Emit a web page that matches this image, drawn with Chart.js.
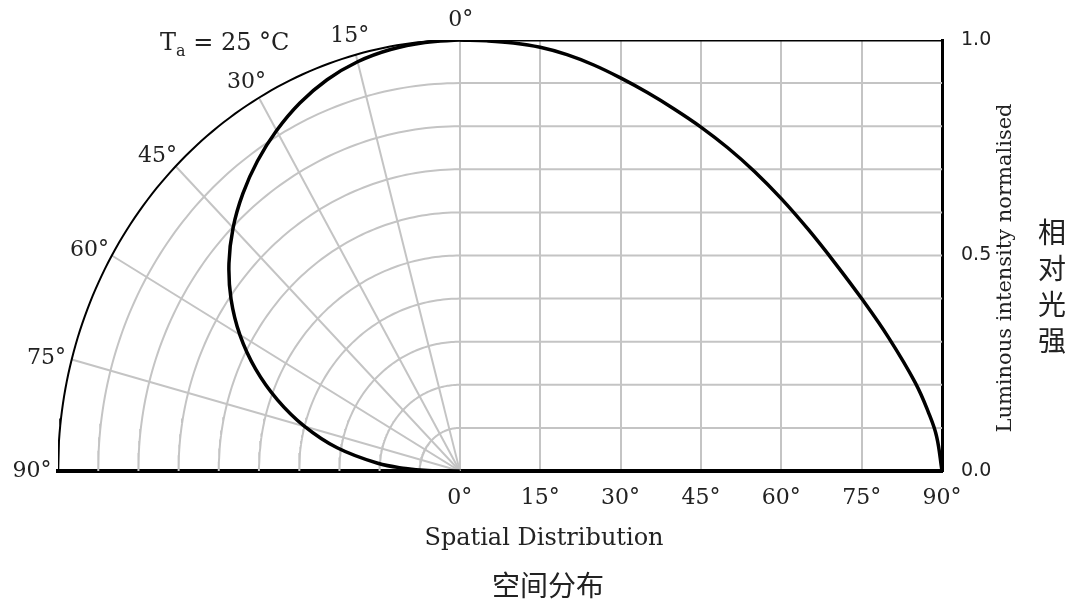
<!DOCTYPE html>
<html>
<head>
<meta charset="utf-8">
<script src="https://cdn.jsdelivr.net/npm/chart.js@4.4.0/dist/chart.umd.min.js"></script>
<style>
  html, body { margin: 0; padding: 0; background: #fff; }
  #wrap { width: 1072px; height: 603px; }
</style>
</head>
<body>
<div id="wrap"><canvas id="chart" width="1072" height="603"></canvas></div>
<script>
//*Data
const angles = [0, 5, 10, 15, 20, 25, 30, 35, 40, 45, 50, 55, 60, 65, 70, 75, 80, 85, 87.5, 89, 90];
const intensity = [1.0, 0.998, 0.993, 0.983, 0.966, 0.942, 0.912, 0.878, 0.84, 0.798, 0.75, 0.695, 0.632, 0.561, 0.483, 0.40, 0.31, 0.205, 0.135, 0.08, 0.0];
const angleTicks = [0, 15, 30, 45, 60, 75, 90];
const levelTicks = [0.0, 0.5, 1.0];
const gridLevels = [0.1, 0.2, 0.3, 0.4, 0.5, 0.6, 0.7, 0.8, 0.9];
const spokeAngles = [15, 30, 45, 60, 75];

//*Polar half uses the same x scale, radius 1 = R_X units
const R_X = 75;
const GRID = '#c4c4c4';
const TEXT = '#222';
const rad = a => a * Math.PI / 180;
const polarPt = (r, a) => ({ x: -r * Math.sin(rad(a)) * R_X, y: r * Math.cos(rad(a)) });

const ring = r => {
  let pts = [];
  for (let a = 0; a <= 90; a++) pts.push(polarPt(r, a));
  return pts;
}

const lineSet = (data, color, width, extra) => Object.assign({
  data: data,
  showLine: true,
  borderColor: color,
  borderWidth: width,
  pointRadius: 0,
  fill: false,
}, extra || {});

const datasets = [
  // curve, cartesian side
  lineSet(angles.map((a, i) => ({ x: a, y: intensity[i] })), '#000', 3.5, { tension: 0.4 }),
  // curve, polar side
  lineSet(angles.map((a, i) => polarPt(intensity[i], a)), '#000', 3.5, { tension: 0.4 }),
  // top border
  lineSet([{ x: 0, y: 1 }, { x: 90, y: 1 }], '#000', 3),
  // outer ring
  lineSet(ring(1), '#000', 2),
];
gridLevels.forEach(v => {
  datasets.push(lineSet(ring(v), GRID, 2));
  datasets.push(lineSet([{ x: 0, y: v }, { x: 90, y: v }], GRID, 2));
});
spokeAngles.forEach(a => {
  datasets.push(lineSet([{ x: 0, y: 0 }, polarPt(1, a)], GRID, 2));
});

//*Texts
const textPlugin = {
  id: 'texts',
  afterDraw(chart) {
    const ctx = chart.ctx;
    const xs = chart.scales.x, ys = chart.scales.y;
    ctx.save();
    ctx.fillStyle = TEXT;

    // polar angle labels
    ctx.font = '22px "DejaVu Serif"';
    ctx.textAlign = 'center';
    ctx.textBaseline = 'middle';
    angleTicks.forEach(a => {
      const p = polarPt(1, a);
      const px = xs.getPixelForValue(p.x);
      const py = ys.getPixelForValue(p.y);
      const c = Math.cos(rad(a));
      ctx.fillText(a + '°', px - 27 * Math.sin(rad(a)) + 1, py - 20 * c * c);
    });

    // T_a = 25 °C
    ctx.textAlign = 'left';
    ctx.textBaseline = 'alphabetic';
    ctx.font = '24px "DejaVu Serif"';
    let x = 160;
    ctx.fillText('T', x, 50);
    x += ctx.measureText('T').width;
    ctx.font = '16px "DejaVu Serif"';
    ctx.fillText('a', x, 56);
    x += ctx.measureText('a').width;
    ctx.font = '24px "DejaVu Serif"';
    ctx.fillText(' = 25 °C', x, 50);

    // x titles
    ctx.textAlign = 'center';
    ctx.font = '24px "DejaVu Serif"';
    ctx.fillText('Spatial Distribution', 544, 545);
    ctx.font = '28px "Noto Sans CJK SC"';
    ctx.textBaseline = 'middle';
    ctx.fillText('空间分布', 548, 585);

    // y titles
    ctx.save();
    ctx.translate(1006, 268);
    ctx.rotate(-Math.PI / 2);
    ctx.font = '21px "DejaVu Serif"';
    ctx.fillText('Luminous intensity normalised', 0, 0);
    ctx.restore();
    ctx.font = '28px "Noto Sans CJK SC"';
    ['相', '对', '光', '强'].forEach((c, i) => ctx.fillText(c, 1052, 232 + i * 36));
    ctx.restore();
  }
}

const chart = new Chart(document.getElementById('chart'), {
  type: 'scatter',
  data: { datasets: datasets },
  options: {
    responsive: false,
    animation: false,
    events: [],
    layout: { padding: { left: 58, top: 40, right: 70, bottom: 87 } },
    plugins: { legend: { display: false }, tooltip: { enabled: false } },
    scales: {
      x: {
        type: 'linear',
        min: -R_X,
        max: 90,
        afterBuildTicks: s => { s.ticks = angleTicks.map(v => ({ value: v })); },
        afterFit: s => { s.height = 45; },
        grid: { color: GRID, lineWidth: 2, drawTicks: false },
        border: { color: '#000', width: 4 },
        ticks: {
          padding: 14,
          color: TEXT,
          font: { family: 'DejaVu Serif', size: 22 },
          callback: v => v + '°',
          maxRotation: 0,
        },
      },
      y: {
        type: 'linear',
        position: 'right',
        min: 0,
        max: 1,
        afterBuildTicks: s => { s.ticks = levelTicks.map(v => ({ value: v })); },
        afterFit: s => { s.width = 60; },
        grid: { display: false, drawTicks: false },
        border: { color: '#000', width: 3 },
        ticks: {
          padding: 19,
          color: TEXT,
          font: { family: 'DejaVu Sans', size: 19 },
          callback: v => v.toFixed(1),
        },
      },
    },
  },
  plugins: [textPlugin],
});
</script>
</body>
</html>
